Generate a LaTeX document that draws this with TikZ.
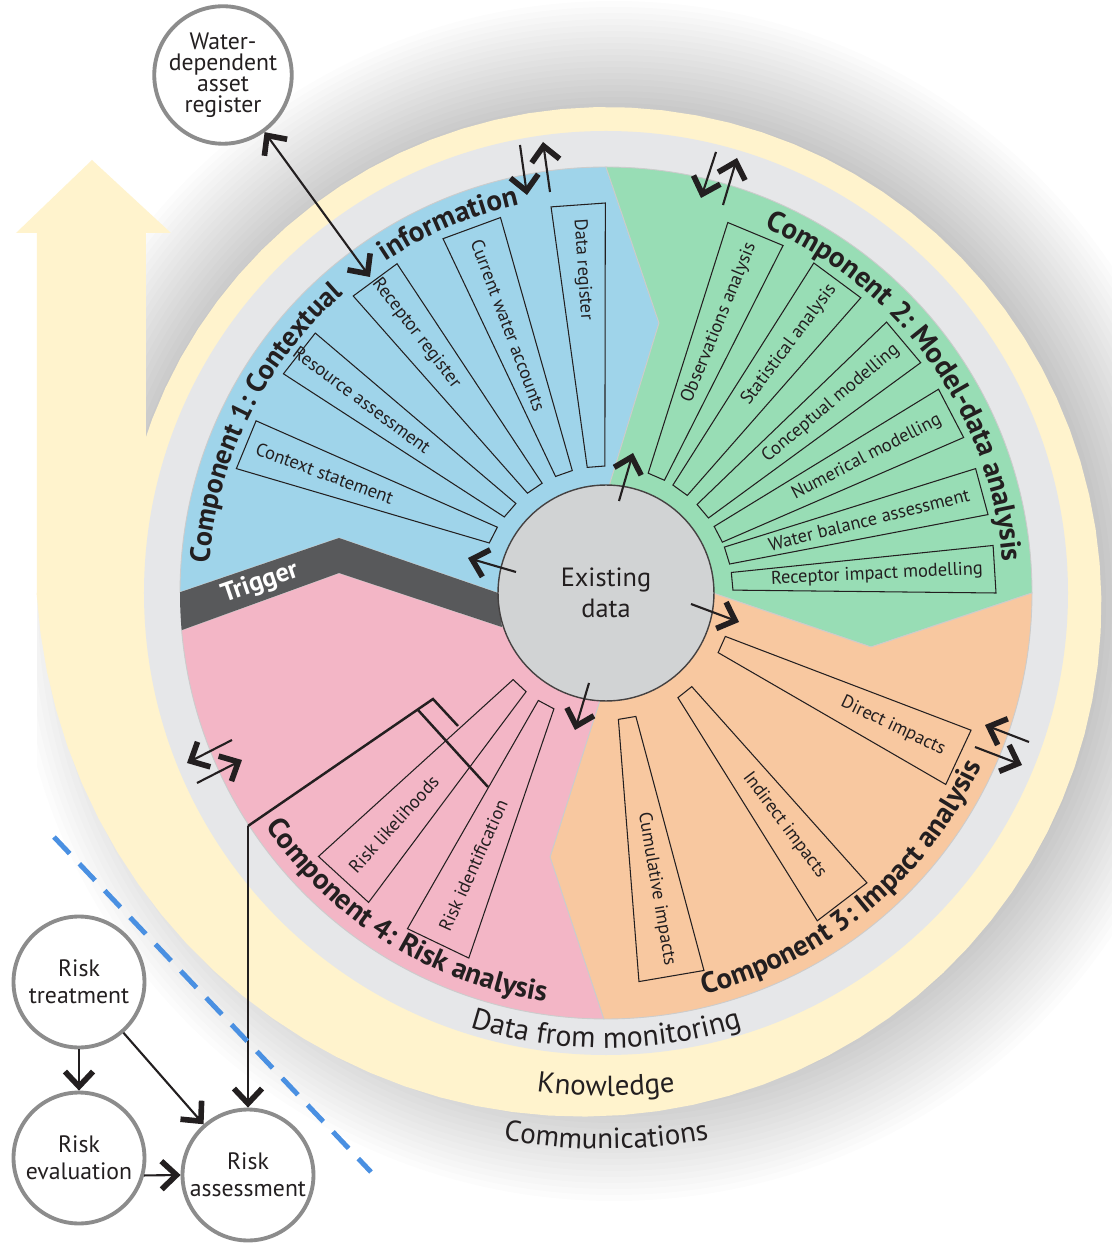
\documentclass[tikz,border=0pt]{standalone}
\usepackage{fontspec}
\setmainfont{PT Sans}
\usetikzlibrary{arrows.meta,decorations.text,calc}
\definecolor{ink}{HTML}{231F20}
\definecolor{cblue}{HTML}{9FD4EA}
\definecolor{cgreen}{HTML}{98DDB5}
\definecolor{corange}{HTML}{F8C8A0}
\definecolor{cpink}{HTML}{F3B6C6}
\definecolor{ringgray}{HTML}{E6E7E9}
\definecolor{cyellow}{HTML}{FFF3CD}
\definecolor{coregray}{HTML}{D1D3D4}
\definecolor{trig}{HTML}{58595B}
\definecolor{dashblue}{HTML}{4A90E2}
\definecolor{circgray}{HTML}{8C8C8C}
\newcommand\radbox[7]{%
  \draw[boxline] (#2-#4:127) -- (#3-#5:390) -- (#3+#5:390) -- (#2+#4:127) -- cycle;
  \path (#2:127) -- (#3:390) node[pos=#6, sloped, boxtext] (#1) {#7};
}
\begin{document}
\begin{tikzpicture}[x=0.02cm,y=0.02cm,
  boxline/.style={draw=ink, line width=0.6pt},
  boxtext/.style={font=\fontsize{10.5}{12}\selectfont, text=ink, inner sep=0pt},
  sector/.style={draw=black!20, line width=0.5pt},
  conn/.style={draw=ink, line width=1.2pt},
  tip/.style={-{Straight Barb[length=8.5pt,width=16pt,line width=3.2pt 0]}},
  bitip/.style={{Straight Barb[length=8.5pt,width=16pt,line width=3.2pt 0]}-{Straight Barb[length=8.5pt,width=16pt,line width=3.2pt 0]}},
  bubble/.style={circle, draw=circgray, line width=2.2pt, fill=white, minimum size=2.62cm, inner sep=0pt, align=center, text=ink, font=\fontsize{13.5}{15.5}\selectfont},
  curved/.style={decorate, decoration={text along path, text align=center, text color=ink, text={#1}}}
]
\useasboundingbox (-606,-650) rectangle (506,593);
\fill[white] (-606,-650) rectangle (506,593);

% soft shadow
\begin{scope}
  \clip (-569,-650) rectangle (506,593);
  \foreach \rr in {486,492,...,600} \fill[black, opacity=0.012] (8,-8) circle[radius=\rr];
\end{scope}

% yellow spiral arrow (Knowledge)
\fill[cyellow] plot[domain=-85:270, samples=90] ({90-\x}:{486+0.00114*max(\x,0)*max(\x,0)})
  -- (-180:455) arc[start angle=-180, end angle=175, radius=455] -- cycle;
\fill[cyellow] (-569,0) -- (-569,360) -- (-590,360) -- (-514,433) -- (-435,360) -- (-460,360) -- (-460,0) -- cycle;

% grey ring (Data from monitoring)
\fill[ringgray] (0,0) circle[radius=462];

% sectors
\path[sector, fill=cblue] (179.9:426) arc[start angle=179.9, end angle=90, radius=426] -- (53,270) -- (4,110) -- (0,0) -- (-108,0) -- (-267,55) -- cycle;
\path[sector, fill=cgreen] (90:426) arc[start angle=90, end angle=0, radius=426] -- (265,-54) -- (107,0) -- (0,0) -- (4,110) -- (53,270) -- cycle;
\path[sector, fill=corange] (0:426) arc[start angle=0, end angle=-90.3, radius=426] -- (-56,-264) -- (-6,-107) -- (0,0) -- (107,0) -- (265,-54) -- cycle;
\path[sector, fill=cpink] (-90.3:426) arc[start angle=-90.3, end angle=-175, radius=426] -- (-267,20) -- (-104,-34) -- (0,0) -- (-6,-107) -- (-56,-264) -- cycle;
\fill[trig] (-267,55) -- (-108,0) -- (-104,-34) -- (-267,20) -- (185:426) arc[start angle=185, end angle=179.9, radius=426] -- cycle;
\node[rotate=19, text=white, font=\fontsize{15}{16}\selectfont\bfseries] (trigger) at (-346,10) {Trigger};

% boxes
\radbox{dreg}{94.5}{94.1}{4}{4.0}{0.75}{Data register}
\radbox{cwa}{109.4}{110.2}{4}{4.5}{0.60}{Current water accounts}
\radbox{rreg}{124.2}{126.4}{4}{4.0}{0.74}{Receptor register}
\radbox{ras}{139.2}{142}{4}{3.8}{0.70}{Resource assessment}
\radbox{cst}{152.8}{157.6}{4}{3.8}{0.68}{Context statement}
\radbox{obs}{66.6}{67.4}{4}{4.4}{0.63}{Observations analysis}
\radbox{sta}{54.2}{53.5}{4}{4.3}{0.69}{Statistical analysis}
\radbox{con}{40.2}{40.1}{4}{3.9}{0.635}{Conceptual modelling}
\radbox{num}{27.6}{27.5}{4}{4.0}{0.635}{Numerical modelling}
\radbox{wba}{17.2}{15.1}{4}{3.5}{0.555}{Water balance assessment}
\radbox{rim}{5.3}{3.5}{4}{3.5}{0.55}{Receptor impact modelling}
\radbox{dir}{-24}{-25}{4}{4.4}{0.72}{Direct impacts}
\radbox{ind}{-51.5}{-52.6}{4}{4.6}{0.63}{Indirect impacts}
\radbox{cum}{-80.4}{-80.3}{4}{4.85}{0.66}{Cumulative impacts}
\radbox{rid}{-118.2}{-115.6}{4}{5}{0.67}{Risk identification}
\radbox{rlk}{-133}{-132.5}{4}{5}{0.71}{Risk likelihoods}

% core
\node[circle, draw=ink!85, line width=0.8pt, fill=coregray, minimum size=4.32cm, inner sep=0pt, align=center, text=ink, font=\fontsize{15}{17.5}\selectfont] (core) at (0,0) {Existing\\data};

% curved labels
\path[curved={|\fontsize{16}{20}\selectfont\bfseries|Component 1: Contextual}] (181.5:398) arc[start angle=181.5, end angle=125.5, radius=398];
\path[curved={|\fontsize{16.5}{20}\selectfont\bfseries|information}] (133.1:398) arc[start angle=133.1, end angle=93.1, radius=398];
\path[curved={|\fontsize{16.5}{20}\selectfont\bfseries|Component 2: Model-data analysis}] (75:398) arc[start angle=75, end angle=-4, radius=398];
\path[curved={|\fontsize{16.5}{20}\selectfont\bfseries|Component 3: Impact analysis}] (-85:413) arc[start angle=-85, end angle=-16, radius=413];
\path[curved={|\fontsize{16.5}{20}\selectfont\bfseries|Component 4: Risk analysis}] (-157:413) arc[start angle=-157, end angle=-87, radius=413];
\path[curved={|\fontsize{17}{20}\selectfont|Data from monitoring}] (-120:455) arc[start angle=-120, end angle=-60, radius=455];
\path[curved={|\fontsize{16.5}{20}\selectfont|Knowledge}] (-110:503) arc[start angle=-110, end angle=-70, radius=503];
\path[curved={|\fontsize{16.5}{20}\selectfont|Communications}] (-115:556) arc[start angle=-115, end angle=-65, radius=556];

% arrows from existing data
\coordinate (cb0) at (-90,21);   \coordinate (cb1) at (-138,35);
\coordinate (cg0) at (13,92);    \coordinate (cg1) at (27,140);
\coordinate (co0) at (85,-11);   \coordinate (co1) at (133,-29);
\coordinate (cp0) at (-17,-90);  \coordinate (cp1) at (-31,-137);
\draw[conn,tip] (cb0) -- (cb1);
\draw[conn,tip] (cg0) -- (cg1);
\draw[conn,tip] (co0) -- (co1);
\draw[conn,tip] (cp0) -- (cp1);

% exchange arrow pairs with monitoring ring
\coordinate (pa1s) at (-86,448);  \coordinate (pa1e) at (-79,398);
\coordinate (pa2s) at (-56,401);  \coordinate (pa2e) at (-63,451);
\coordinate (pb1s) at (110,441);  \coordinate (pb1e) at (95,395);
\coordinate (pb2s) at (117,388);  \coordinate (pb2e) at (131,435);
\coordinate (pc1s) at (423,-149); \coordinate (pc1e) at (379,-132);
\coordinate (pc2s) at (369,-154); \coordinate (pc2e) at (416,-172);
\coordinate (pd1s) at (-374,-147); \coordinate (pd1e) at (-419,-170);
\coordinate (pd2s) at (-409,-190); \coordinate (pd2e) at (-364,-167);
\foreach \pp in {pa1,pa2,pb1,pb2,pc1,pc2,pd1,pd2} \draw[conn,tip] (\pp s) -- (\pp e);

% water-dependent asset register
\node[bubble, font=\fontsize{13.5}{12}\selectfont] (asset) at (-383,518) {Water-\\dependent\\asset\\register};
\coordinate (assetend) at (-236,316);
\draw[conn,bitip] (asset) -- (assetend);

% risk circles
\node[bubble] (treat) at (-527,-389) {Risk\\treatment};
\node[bubble] (eval) at (-527,-565) {Risk\\evaluation};
\node[bubble] (assess) at (-358,-582) {Risk\\assessment};
\draw[conn,tip] (treat) -- (eval);
\draw[conn,tip] (treat) -- (assess);
\draw[conn,tip] (eval.-15) -- (assess.west);

% bracket from risk analysis to risk assessment
\coordinate (bk1) at (-148,-133);
\coordinate (bk2) at (-173,-106);
\coordinate (bk3) at (-358,-233);
\coordinate (bk4) at (-188,-117);
\coordinate (bk5) at (-118,-194);
\draw[conn, line width=1.4pt] (bk1) -- (bk2) -- (bk3);
\draw[conn, line width=1.4pt] (bk4) -- (bk5);
\draw[conn,tip] (bk3) -- (assess);

% dashed boundary
\coordinate (d1) at (-552,-244);
\coordinate (d2) at (-235,-579);
\draw[dashblue, line width=2.8pt, dash pattern=on 13pt off 8pt] (d1) -- (d2);
\end{tikzpicture}
\end{document}
